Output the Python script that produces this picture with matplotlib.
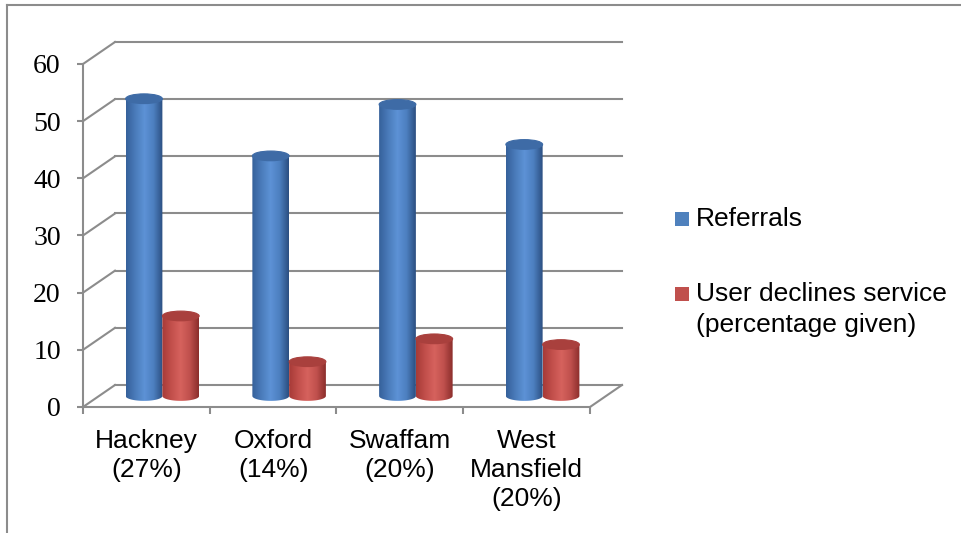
import matplotlib
matplotlib.use("Agg")
import matplotlib.pyplot as plt
import numpy as np
from matplotlib.colors import LinearSegmentedColormap
from matplotlib.lines import Line2D
from matplotlib.patches import Ellipse, PathPatch, Rectangle
from matplotlib.path import Path
from matplotlib.transforms import IdentityTransform, ScaledTranslation

# data
sites = ["Hackney\n(27%)", "Oxford\n(14%)", "Swaffam\n(20%)", "West\nMansfield\n(20%)"]
referrals = [52, 42, 51, 44]
declines = [14, 6, 10, 9]
series_names = ["Referrals", "User declines service\n(percentage given)"]
y_ticks = [0, 10, 20, 30, 40, 50, 60]

GRID = "#8c8c8c"
DEPTH = (0.32, 0.22)  # back wall offset in inches (oblique 3-D look)
BAR_W = 0.29
ELL_H = 1.7  # cylinder cap height in data units
W, H = 962, 533

blue_cmap = LinearSegmentedColormap.from_list(
    "blue", ["#35609a", "#4a7bba", "#5d92d6", "#4c7fbf", "#2b4e80"])
red_cmap = LinearSegmentedColormap.from_list(
    "red", ["#a63a37", "#c24f4b", "#d6625d", "#c0504d", "#8a2d2b"])
series_style = [(blue_cmap, "#3e6ba6", "#4f81bd"), (red_cmap, "#a9403d", "#c0504d")]

fig = plt.figure(figsize=(W / 100, H / 100), dpi=100)
ax = fig.add_axes([83 / W, 126 / H, 507 / W, 343 / H])
ax.set_xlim(-0.5, 3.5)
ax.set_ylim(0, 60)
ax.patch.set_visible(False)

back = ax.transData + ScaledTranslation(*DEPTH, fig.dpi_scale_trans)
mid = ax.transData + ScaledTranslation(DEPTH[0] / 2, DEPTH[1] / 2, fig.dpi_scale_trans)


def diagonal(x, y):
    f = ax.transData.transform((x, y))
    b = back.transform((x, y))
    ax.add_line(Line2D([f[0], b[0]], [f[1], b[1]], transform=IdentityTransform(),
                       color=GRID, lw=1.5, clip_on=False, zorder=1))


# back wall gridlines + side wall diagonals
for y in y_ticks:
    ax.plot([-0.5, 3.5], [y, y], transform=back, color=GRID, lw=1.5, clip_on=False, zorder=1)
    diagonal(-0.5, y)
diagonal(3.5, 0)


def cylinder(xc, value, cmap, top_color, z):
    x0, x1 = xc - BAR_W / 2, xc + BAR_W / 2
    t = np.linspace(np.pi, 2 * np.pi, 50)
    arc = np.column_stack([xc + BAR_W / 2 * np.cos(t), ELL_H / 2 * np.sin(t)])
    verts = np.vstack([[x0, value], arc, [x1, value], [x0, value]])
    clip = PathPatch(Path(verts, closed=True), transform=mid,
                     facecolor="none", edgecolor="none")
    ax.add_patch(clip)
    im = ax.imshow(np.linspace(0, 1, 256)[None, :], cmap=cmap, aspect="auto",
                   extent=[x0, x1, -ELL_H, value + ELL_H], transform=mid,
                   interpolation="bilinear", zorder=z)
    im.set_clip_path(clip)
    ax.add_patch(Ellipse((xc, value), BAR_W, ELL_H, transform=mid, facecolor=top_color,
                         edgecolor=top_color, lw=0.8, zorder=z + 0.1, clip_on=False))


for i in range(len(sites)):
    for j, vals in enumerate([referrals, declines]):
        cmap, top, _ = series_style[j]
        cylinder(i + (j - 0.5) * 0.29, vals[i], cmap, top, 3 + j)

ax.set_xlim(-0.5, 3.5)
ax.set_ylim(0, 60)

for s in ["top", "right"]:
    ax.spines[s].set_visible(False)
for s in ["left", "bottom"]:
    ax.spines[s].set_color(GRID)
    ax.spines[s].set_linewidth(1.5)
    ax.spines[s].set_zorder(2)

ax.set_yticks(y_ticks)
ax.set_yticklabels([str(v) for v in y_ticks], fontfamily="Liberation Serif", fontsize=20)
ax.tick_params(axis="y", length=4, width=1.5, color=GRID, pad=12)
ax.set_xticks(range(len(sites)))
ax.set_xticklabels(sites, fontfamily="Liberation Sans", fontsize=19, linespacing=1.26)
ax.set_xticks(np.arange(-0.5, len(sites), 1), minor=True)
ax.tick_params(axis="x", which="major", length=0, pad=16)
ax.tick_params(axis="x", which="minor", length=5, width=1.5, color=GRID)

# legend: square swatch beside the first line of each label
legend_rows = [(212, 226), (287, 299)]  # (swatch top, first-line baseline) in px from top
LEG_LINE = 33  # px between legend text lines
for (_, _, color), name, (sq_top, base) in zip(series_style, series_names, legend_rows):
    fig.add_artist(Rectangle((675 / W, 1 - (sq_top + 14) / H), 14 / W, 14 / H,
                             transform=fig.transFigure, facecolor=color, edgecolor="none"))
    last_base = base + LEG_LINE * name.count("\n")  # baseline alignment uses the last line
    fig.text(696 / W, 1 - last_base / H, name, fontfamily="Liberation Sans", fontsize=19,
             va="baseline", ha="left", linespacing=1.38)

# chart area frame (only top and left edges show in the crop)
fig.add_artist(Line2D([7 / W, 1], [1 - 5 / H] * 2, transform=fig.transFigure, color=GRID, lw=1.5))
fig.add_artist(Line2D([7 / W] * 2, [0, 1 - 5 / H], transform=fig.transFigure, color=GRID, lw=1.5))

fig.savefig("out.png", dpi=100)
